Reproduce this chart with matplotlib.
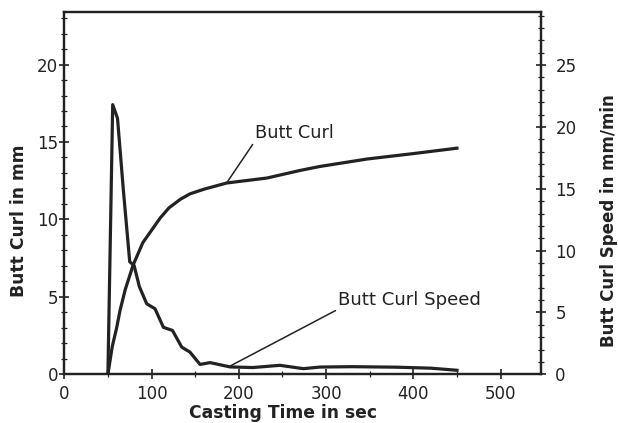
import matplotlib.pyplot as plt
from matplotlib.ticker import MultipleLocator

# casting time (s) and butt curl (mm), left axis
curl_t = [50, 55, 60, 64, 70, 79, 90, 100, 110, 120, 133, 144, 160, 186, 200,
          232, 270, 293, 347, 400, 450]
curl_mm = [0, 1.8, 3.0, 4.15, 5.5, 7.07, 8.5, 9.3, 10.1, 10.75, 11.3, 11.65,
           11.95, 12.35, 12.45, 12.67, 13.16, 13.42, 13.9, 14.25, 14.6]

# butt curl speed (mm/min), right axis
speed_t = [50, 55.5, 61, 67.7, 75, 80, 86, 94.5, 104, 113.6, 124, 134.6, 144, 155.6,
           167, 190, 216, 247, 274, 293, 330, 380, 420, 450]
speed = [0, 21.8, 20.7, 14.9, 9.1, 8.8, 7.1, 5.7, 5.3, 3.8, 3.55, 2.2, 1.8, 0.8,
         0.95, 0.6, 0.55, 0.73, 0.46, 0.59, 0.62, 0.58, 0.5, 0.33]

plt.rcParams['font.family'] = 'DejaVu Sans'
ink = '#222222'

fig = plt.figure(figsize=(6.18, 4.23), dpi=100)
ax = fig.add_axes([0.104, 0.115, 0.771, 0.857])
ax2 = ax.twinx()

ax.plot(curl_t, curl_mm, color=ink, lw=2.3)
ax2.plot(speed_t, speed, color=ink, lw=2.3)

ax.set_xlim(0, 546)
ax.set_ylim(0, 23.4)
ax2.set_ylim(0, 29.3)

ax.xaxis.set_major_locator(MultipleLocator(100))
ax.xaxis.set_minor_locator(MultipleLocator(50))
ax.yaxis.set_major_locator(MultipleLocator(5))
ax.yaxis.set_minor_locator(MultipleLocator(1))
ax2.yaxis.set_major_locator(MultipleLocator(5))
ax2.yaxis.set_minor_locator(MultipleLocator(1))
ax.xaxis.set_ticks_position('bottom')

for a in (ax, ax2):
    for s in a.spines.values():
        s.set_linewidth(1.6)
        s.set_color(ink)
ax.tick_params(axis='both', which='major', direction='inout', length=7, width=1.2,
               labelsize=12, colors=ink)
ax.tick_params(axis='both', which='minor', direction='inout', length=4, width=0.9,
               colors=ink)
ax.tick_params(axis='x', which='both', pad=4)
ax.tick_params(axis='y', which='both', right=False, pad=1)
ax2.tick_params(axis='y', which='major', direction='inout', length=7, width=1.2,
                labelsize=12, colors=ink, pad=7)
ax2.tick_params(axis='y', which='minor', direction='inout', length=4, width=0.9,
                colors=ink)

ax.set_xlabel('Casting Time in sec', fontsize=12.3, fontweight='bold', color=ink,
              va='center')
ax.xaxis.set_label_coords(0.459, -0.107)
ax.set_ylabel('Butt Curl in mm', fontsize=12.3, fontweight='bold', color=ink,
              va='center')
ax.yaxis.set_label_coords(-0.095, 0.423)
ax2.set_ylabel('Butt Curl Speed in mm/min', fontsize=12, fontweight='bold',
               color=ink, va='center')
ax2.yaxis.set_label_coords(1.1435, 0.425)

ax.annotate('Butt Curl', xy=(186, 12.35), xytext=(218, 15.6), fontsize=12.8,
            va='center', ha='left', color=ink,
            arrowprops=dict(arrowstyle='-', lw=1.1, color=ink,
                            shrinkA=0, shrinkB=0, relpos=(0.0, 0)))
ax2.annotate('Butt Curl Speed', xy=(190, 0.67), xytext=(314, 6.0), fontsize=13.1,
             va='center', ha='left', color=ink,
             arrowprops=dict(arrowstyle='-', lw=1.1, color=ink,
                             shrinkA=0, shrinkB=0, relpos=(0, 0)))

fig.savefig('out.png', dpi=100)
